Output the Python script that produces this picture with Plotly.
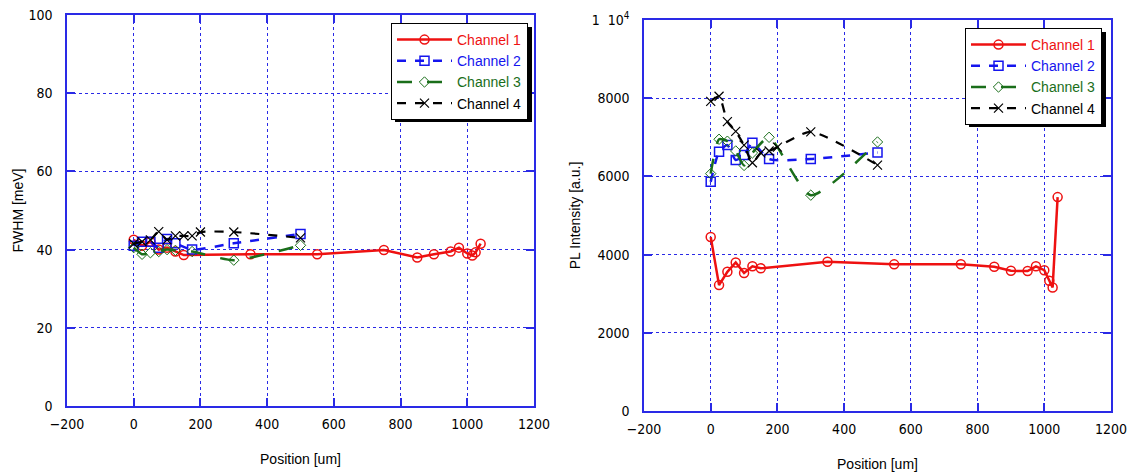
import plotly.graph_objects as go

# ---------------- data ----------------
pos1 = [0, 25, 50, 75, 100, 125, 150, 350, 550, 750, 850, 900, 950, 975, 1000, 1015, 1025, 1040]
fwhm1 = [42.5, 41, 42, 40, 40.5, 39.5, 38.6, 38.8, 38.8, 39.9, 38, 38.8, 39.5, 40.5, 39, 38.5, 39.3, 41.5]
pl1 = [4450, 3220, 3560, 3800, 3530, 3700, 3650, 3815, 3750, 3755, 3690, 3585, 3580, 3700, 3600, 3330, 3160, 5470]

pos2 = [0, 25, 50, 75, 100, 125, 175, 300, 500]
fwhm2 = [41, 42, 42, 40.5, 42.7, 41.6, 40, 41.6, 44]
pl2 = [5860, 6630, 6800, 6420, 6545, 6860, 6445, 6445, 6610]

pos3 = [0, 25, 50, 75, 100, 125, 175, 300, 500]
fwhm3 = [40.5, 38.8, 39.2, 39.5, 40, 39.8, 39.5, 37.3, 41.1]
pl3 = [6070, 6950, 6900, 6650, 6280, 6600, 7000, 5520, 6880]

pos4 = [0, 25, 50, 75, 100, 125, 150, 175, 200, 300, 500]
fwhm4 = [41.5, 42, 42.5, 44.6, 42.5, 43.5, 43.5, 43.5, 44.5, 44.5, 43]
pl4 = [7920, 8050, 7400, 7150, 6800, 6350, 6600, 6650, 6750, 7140, 6290]

names = ["Channel 1", "Channel 2", "Channel 3", "Channel 4"]
colors = ["#ee1111", "#1515ee", "#1a6e1a", "#000000"]

x_ticks = [-200, 0, 200, 400, 600, 800, 1000, 1200]
y1_ticks = [0, 20, 40, 60, 80, 100]
y2_ticks = [0, 2000, 4000, 6000, 8000, 10000]
y2_text = ["0", "2000", "4000", "6000", "8000", "1  10<sup>4</sup>"]

styles = [
    dict(width=2.5, dash="solid", symbol="circle-open", size=9, mlw=1.5, shape="linear"),
    dict(width=2.5, dash="dash", symbol="square-open", size=9, mlw=1.5, shape="spline"),
    dict(width=2.5, dash="longdash", symbol="diamond-open", size=8, mlw=1, shape="spline"),
    dict(width=2.2, dash="dash", symbol="x-thin-open", size=9, mlw=1.2, shape="spline"),
]

left = [(pos1, fwhm1), (pos2, fwhm2), (pos3, fwhm3), (pos4, fwhm4)]
right = [(pos1, pl1), (pos2, pl2), (pos3, pl3), (pos4, pl4)]

fig = go.Figure()
for i in range(4):
    st = styles[i]
    c = colors[i]
    label = f'<span style="color:{c}">{names[i]}</span>'
    for data, xa, ya, lg in [(left[i], "x", "y", "legend"), (right[i], "x2", "y2", "legend2")]:
        line = dict(color=c, width=st["width"], dash=st["dash"], shape=st["shape"])
        if st["shape"] == "spline":
            line["smoothing"] = 0.6
        fig.add_trace(go.Scatter(
            x=data[0], y=data[1], mode="lines+markers", name=label,
            xaxis=xa, yaxis=ya, legend=lg, line=line,
            marker=dict(symbol=st["symbol"], size=st["size"], color=c,
                        line=dict(color=c, width=st["mlw"])),
        ))

W, H = 1129, 474
axis_col = "#2a2ae6"
tickfont = dict(family="Liberation Sans Narrow, DejaVu Sans Condensed, Arial Narrow, sans-serif", size=14, color="black")
titlefont = dict(family="Liberation Sans, Arial, sans-serif", size=14, color="black")
legfont = dict(family="Liberation Sans, Arial, sans-serif", size=14)

common_x = dict(range=[-200, 1200], tickvals=x_ticks, showline=True, linecolor=axis_col, linewidth=1.5,
                mirror="ticks", ticks="inside", ticklen=8, tickcolor=axis_col, tickwidth=1.5,
                showgrid=True, gridcolor=axis_col, griddash="dot", gridwidth=1, zeroline=False,
                tickfont=tickfont, title=dict(text="Position [um]", font=titlefont, standoff=24),
                ticklabelstandoff=4, automargin=False)
common_y = dict(showline=True, linecolor=axis_col, linewidth=1.5,
                mirror="ticks", ticks="inside", ticklen=8, tickcolor=axis_col, tickwidth=1.5,
                showgrid=True, gridcolor=axis_col, griddash="dot", gridwidth=1, zeroline=False,
                tickfont=tickfont, ticklabelstandoff=10, automargin=False)

# legend drop shadows (legend boxes: right edge, top edge, approx. size)
leg_w, leg_h, off = 137, 95, 4
shadows = []
for right_px, top_px in [(528, 23), (1102, 28)]:
    shadows.append(dict(type="rect", xref="paper", yref="paper",
                        x0=(right_px - leg_w + off) / W, x1=(right_px + off) / W,
                        y0=1 - (top_px + leg_h + off) / H, y1=1 - (top_px + off) / H,
                        fillcolor="black", line=dict(width=0), layer="above"))

fig.update_layout(
    width=W, height=H, margin=dict(l=0, r=0, t=0, b=0, autoexpand=False),
    paper_bgcolor="white", plot_bgcolor="white",
    xaxis=dict(domain=[67 / W, 534 / W], anchor="y", **common_x),
    yaxis=dict(domain=[1 - 406 / H, 1 - 15 / H], anchor="x", range=[0, 100], tickvals=y1_ticks,
               title=dict(text="FWHM [meV]", font=titlefont, standoff=2), **common_y),
    xaxis2=dict(domain=[644 / W, 1111 / W], anchor="y2", **common_x),
    yaxis2=dict(domain=[1 - 411 / H, 1 - 20 / H], anchor="x2", range=[0, 10000], tickvals=y2_ticks,
                ticktext=y2_text, title=dict(text="PL Intensity [a.u.]", font=titlefont, standoff=8), **common_y),
    legend=dict(x=528 / W, y=1 - 23 / H, xanchor="right", yanchor="top", bgcolor="white",
                bordercolor="black", borderwidth=1, font=legfont, itemwidth=55, tracegroupgap=0),
    legend2=dict(x=1102 / W, y=1 - 28 / H, xanchor="right", yanchor="top", bgcolor="white",
                 bordercolor="black", borderwidth=1, font=legfont, itemwidth=55, tracegroupgap=0),
    shapes=shadows,
    showlegend=True,
)

fig.write_html("out.html")
